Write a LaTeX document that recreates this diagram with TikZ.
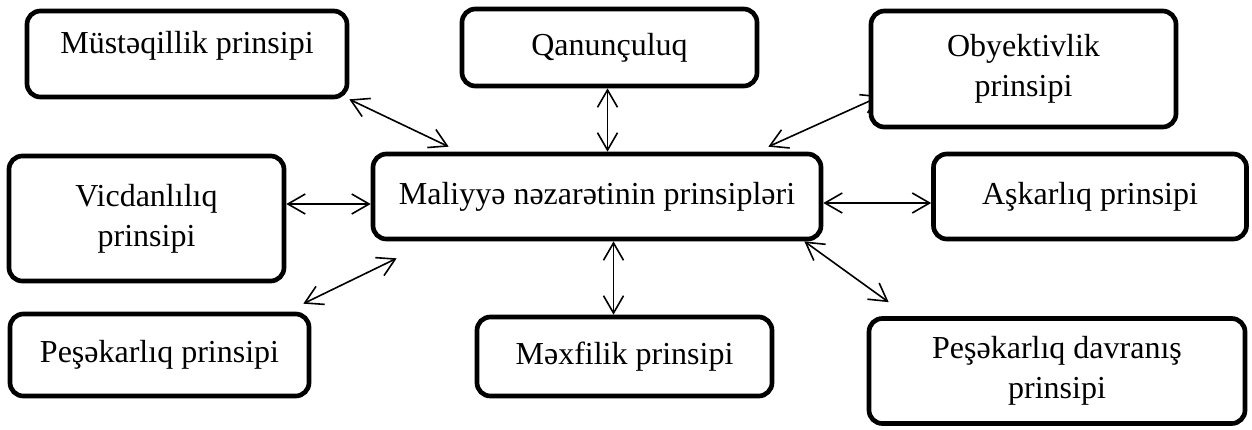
\documentclass[tikz,border=0pt]{standalone}
\usepackage{fontspec}
\setmainfont{Liberation Serif}
\usetikzlibrary{arrows.meta,calc}
\pgfdeclarelayer{background}
\pgfsetlayers{background,main}
\begin{document}
\begin{tikzpicture}[x=0.75pt,y=-0.75pt,
  box/.style={draw=black, line width=3.5pt, rounded corners=10pt, fill=white,
    align=center, font=\fontsize{24}{30}\selectfont, inner sep=0pt},
  link/.style={line width=1.2pt, {Straight Barb[length=13pt,width=15pt]}-{Straight Barb[length=13pt,width=15pt]}}]
\useasboundingbox (0,0) rectangle (1252,429);
\node[box, minimum width=320pt*0.75, minimum height=86pt*0.75, text depth=18pt] (must) at (187,54) {Müstəqillik prinsipi};
\node[box, minimum width=295pt*0.75, minimum height=77pt*0.75] (qan) at (609.5,47.5) {Qanunçuluq};
\node[box, minimum width=305pt*0.75, minimum height=116pt*0.75] (obj) at (1023.5,69) {Obyektivlik\\prinsipi};
\node[box, minimum width=448pt*0.75, minimum height=85pt*0.75] (ctr) at (597,196.5) {Maliyyə nəzarətinin prinsipləri};
\node[box, minimum width=313pt*0.75, minimum height=85pt*0.75] (ask) at (1090,196.5) {Aşkarlıq prinsipi};
\node[box, minimum width=275pt*0.75, minimum height=125pt*0.75] (vic) at (146.5,218.5) {Vicdanlılıq\\prinsipi};
\node[box, minimum width=299pt*0.75, minimum height=82pt*0.75] (pes) at (159.5,355) {Peşəkarlıq prinsipi};
\node[box, minimum width=295pt*0.75, minimum height=79pt*0.75] (mex) at (624.5,356.5) {Məxfilik prinsipi};
\node[box, minimum width=376pt*0.75, minimum height=105pt*0.75] (pdav) at (1057,371) {Peşəkarlıq davranış\\prinsipi};
\begin{pgfonlayer}{background}
\draw[link] (must.south east) -- ($(ctr.north west)+(78,-5)$);
\draw[link] ($(qan.south)+(-2,0)$) -- ($(qan.south |- ctr.north)+(-2,0)$);
\draw[link] ($(obj.west)+(12,27)$) -- ($(ctr.north east)+(-55,-5)$);
\draw[link] ($(vic.east)+(0,-14.5)$) -- ($(ctr.west)+(0,7.5)$);
\draw[link] ($(pes.north east)+(-8,-8)$) -- ($(ctr.south west)+(26,17)$);
\draw[link] ($(mex.north)+(-11,0)$) -- ($(mex.north |- ctr.south)+(-11,0)$);
\draw[link] ($(ctr.east)+(0,6.5)$) -- ($(ask.west)+(0,6.5)$);
\draw[link] ($(ctr.south east)+(-19,0)$) -- ($(pdav.north west)+(22,-14)$);
\end{pgfonlayer}
\end{tikzpicture}
\end{document}
